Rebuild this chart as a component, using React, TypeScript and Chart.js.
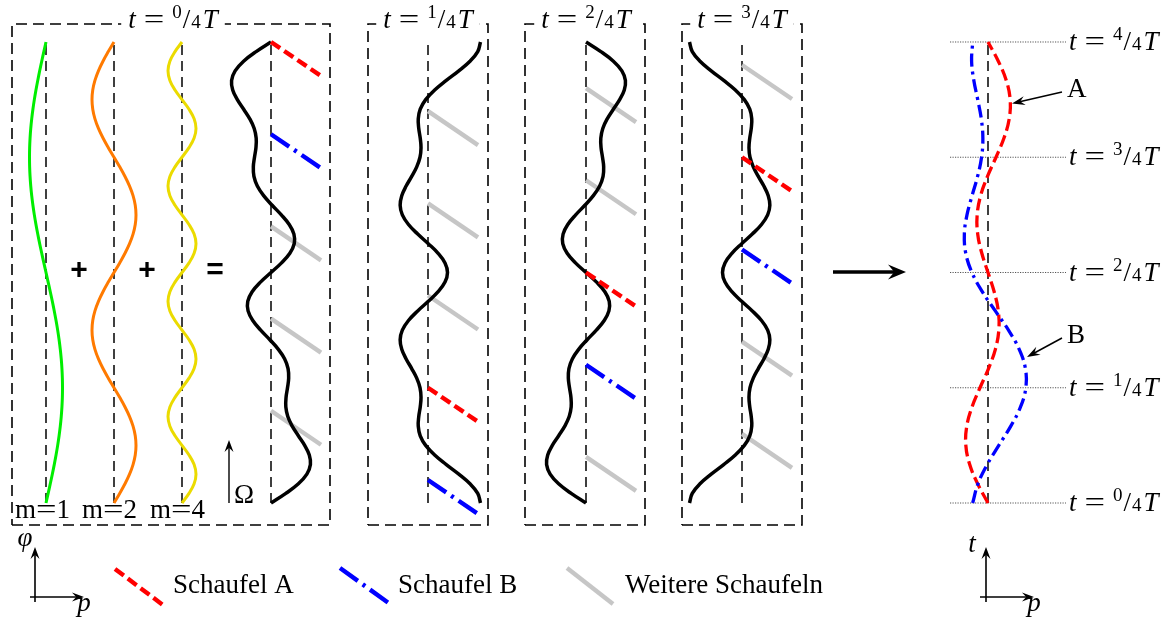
import React, { useEffect, useRef } from "react";
import { Chart, registerables } from "chart.js";

Chart.register(...registerables);

// ---------- data (x: pressure offset in px-units, y: angle / time in degrees) ----------
const PHI_DEG = [0, 7.5, 15, 22.5, 30, 37.5, 45, 52.5, 60, 67.5, 75, 82.5, 90, 97.5, 105, 112.5, 120, 127.5, 135, 142.5, 150, 157.5, 165, 172.5, 180, 187.5, 195, 202.5, 210, 217.5, 225, 232.5, 240, 247.5, 255, 262.5, 270, 277.5, 285, 292.5, 300, 307.5, 315, 322.5, 330, 337.5, 345, 352.5, 360];

const MODE_1 = [0, 2.15, 4.27, 6.31, 8.25, 10.04, 11.67, 13.09, 14.29, 15.24, 15.94, 16.36, 16.5, 16.36, 15.94, 15.24, 14.29, 13.09, 11.67, 10.04, 8.25, 6.31, 4.27, 2.15, 0, -2.15, -4.27, -6.31, -8.25, -10.04, -11.67, -13.09, -14.29, -15.24, -15.94, -16.36, -16.5, -16.36, -15.94, -15.24, -14.29, -13.09, -11.67, -10.04, -8.25, -6.31, -4.27, -2.15, 0];
const MODE_2 = [0, 5.69, 11, 15.56, 19.05, 21.25, 22, 21.25, 19.05, 15.56, 11, 5.69, 0, -5.69, -11, -15.56, -19.05, -21.25, -22, -21.25, -19.05, -15.56, -11, -5.69, 0, 5.69, 11, 15.56, 19.05, 21.25, 22, 21.25, 19.05, 15.56, 11, 5.69, 0, -5.69, -11, -15.56, -19.05, -21.25, -22, -21.25, -19.05, -15.56, -11, -5.69, 0];
const MODE_4 = [0, 7, 12.12, 14, 12.12, 7, 0, -7, -12.12, -14, -12.12, -7, 0, 7, 12.12, 14, 12.12, 7, 0, -7, -12.12, -14, -12.12, -7, 0, 7, 12.12, 14, 12.12, 7, 0, -7, -12.12, -14, -12.12, -7, 0, 7, 12.12, 14, 12.12, 7, 0, -7, -12.12, -14, -12.12, -7, 0];

const SUM_T0 = [0, 14.84, 27.39, 35.87, 39.42, 38.29, 33.67, 27.34, 21.22, 16.8, 14.82, 15.05, 16.5, 17.67, 17.06, 13.68, 7.36, -1.16, -10.33, -18.21, -22.92, -23.25, -18.85, -10.54, 0, 10.54, 18.85, 23.25, 22.92, 18.21, 10.33, 1.16, -7.36, -13.68, -17.06, -17.67, -16.5, -15.05, -14.82, -16.8, -21.22, -27.34, -33.67, -38.29, -39.42, -35.87, -27.39, -14.84, 0];
const SUM_T1 = [52.5, 49.73, 41.99, 30.8, 18.29, 6.66, -2.33, -7.77, -9.75, -9.25, -7.78, -6.98, -8, -11.28, -16.32, -21.87, -26.25, -27.85, -25.67, -19.52, -10.29, 0.32, 10.11, 17.01, 19.5, 17.01, 10.11, 0.32, -10.29, -19.52, -25.67, -27.85, -26.25, -21.87, -16.32, -11.28, -8, -6.98, -7.78, -9.25, -9.75, -7.77, -2.33, 6.66, 18.29, 30.8, 41.99, 49.73, 52.5];
const SUM_T2 = [0, -14.84, -27.39, -35.87, -39.42, -38.29, -33.67, -27.34, -21.22, -16.8, -14.82, -15.05, -16.5, -17.67, -17.06, -13.68, -7.36, 1.16, 10.33, 18.21, 22.92, 23.25, 18.85, 10.54, 0, -10.54, -18.85, -23.25, -22.92, -18.21, -10.33, -1.16, 7.36, 13.68, 17.06, 17.67, 16.5, 15.05, 14.82, 16.8, 21.22, 27.34, 33.67, 38.29, 39.42, 35.87, 27.39, 14.84, 0];
const SUM_T3 = [-52.5, -49.73, -41.99, -30.8, -18.29, -6.66, 2.33, 7.77, 9.75, 9.25, 7.78, 6.98, 8, 11.28, 16.32, 21.87, 26.25, 27.85, 25.67, 19.52, 10.29, -0.32, -10.11, -17.01, -19.5, -17.01, -10.11, -0.32, 10.29, 19.52, 25.67, 27.85, 26.25, 21.87, 16.32, 11.28, 8, 6.98, 7.78, 9.25, 9.75, 7.77, 2.33, -6.66, -18.29, -30.8, -41.99, -49.73, -52.5];

const T_DEG = [0, 15, 30, 45, 60, 75, 90, 105, 120, 135, 150, 165, 180, 195, 210, 225, 240, 255, 270, 285, 300, 315, 330, 345, 360];
const BLADE_A_PRESSURE = [0, -10.32, -18.29, -22.16, -21.22, -15.98, -8, 0.52, 7.36, 10.84, 10.29, 6.18, 0, -6.18, -10.29, -10.84, -7.36, -0.52, 8, 15.98, 21.22, 22.16, 18.29, 10.32, 0];
const BLADE_B_PRESSURE = [-15.31, -10.04, -0.87, 10.81, 22.78, 32.51, 37.82, 37.41, 31.23, 20.47, 7.3, -5.68, -16.07, -22.24, -23.65, -21.01, -15.92, -10.43, -6.44, -5.13, -6.71, -10.27, -14.16, -16.4, -15.31];

const BLADE_A_PHI = [360, 90, 180, 270];
const BLADE_B_PHI = [288, 18, 108, 198];
const OTHER_BLADES_PHI = [[216, 144, 72], [162, 234, 306], [252, 324, 36], [342, 54, 126]];

const PANEL_NUMERATORS = ["0", "1", "2", "3"];
const RIGHT_NUMERATORS = ["0", "1", "2", "3", "4"];
const RIGHT_LEVELS = [0, 90, 180, 270, 360];
const MODE_LABELS = ["1", "2", "4"];
const LEGEND_LABELS = ["Schaufel A", "Schaufel B", "Weitere Schaufeln"];
const OPERATORS = ["+", "+", "="];

// ---------- layout (same units as the scales) ----------
const MODE_AXES = [46, 114, 182];
const PANEL_AXES = [271, 428, 586, 742];
const RIGHT_AXIS = 988;
const PANEL_BOXES = [[12, 330], [368, 488], [525, 645], [682, 802]];
const BOX_BOTTOM = -17.18;
const BOX_TOP = 374.05;
const TITLE_X = [173, 428, 586, 742];
const TITLE_BASE = 371;
const BLADE_DX = 50;
const BLADE_DPHI = 26.55;
const LEGEND_X = [[115, 163], [340, 390], [567, 613]];
const LEGEND_Y = [[-51.54, -79.65], [-50.76, -78.87], [-50.76, -78.87]];
const LEGEND_TEXT_X = [173, 398, 625];
const LEGEND_TEXT_BASE = -70.28;
const MODE_LABEL_X = [15, 82, 150];
const OPERATOR_X = [79, 147, 215];

const RED = "#ff0000";
const BLUE = "#0000ff";
const GRAY = "#c6c6c6";
const DASH_A = [11, 5];
const DASH_B = [22, 6, 3, 6];
const SERIF = '"Liberation Serif", "Times New Roman", serif';
const F_TEXT = `27px ${SERIF}`;
const F_IT = `italic 27px ${SERIF}`;
const F_SMALL = `19px ${SERIF}`;

type Pt = { x: number; y: number };
type Seg = { t?: string; font?: string; dy?: number; gap?: number; sx?: number };

function lineDs(data: Pt[], color: string, width: number, dash: number[] = [], tension = 0, cap: CanvasLineCap = "butt") {
  return {
    data,
    showLine: true,
    pointRadius: 0,
    pointHoverRadius: 0,
    borderColor: color,
    backgroundColor: color,
    borderWidth: width,
    borderDash: dash,
    borderCapStyle: cap,
    borderJoinStyle: "miter" as CanvasLineJoin,
    tension,
    fill: false,
    clip: false as any,
  };
}

function curve(axis: number, values: number[], ys: number[]): Pt[] {
  return values.map((v, i) => ({ x: axis + v, y: ys[i] }));
}

function seg(x1: number, y1: number, x2: number, y2: number): Pt[] {
  return [{ x: x1, y: y1 }, { x: x2, y: y2 }];
}

function buildDatasets() {
  const list: any[] = []; // bottom-to-top
  PANEL_BOXES.forEach(([a, b]) => {
    list.push(lineDs([{ x: a, y: BOX_BOTTOM }, { x: b, y: BOX_BOTTOM }, { x: b, y: BOX_TOP }, { x: a, y: BOX_TOP }, { x: a, y: BOX_BOTTOM }], "#000", 1.6, [11, 6]));
  });
  [...MODE_AXES, ...PANEL_AXES, RIGHT_AXIS].forEach((ax) => list.push(lineDs(seg(ax, 0, ax, 360), "#000", 1.5, [10, 6])));
  RIGHT_LEVELS.forEach((lv) => list.push(lineDs(seg(950, lv, 1066, lv), "#555", 1, [1.2, 1.3])));
  OTHER_BLADES_PHI.forEach((phis, p) => {
    phis.forEach((ph) => list.push(lineDs(seg(PANEL_AXES[p], ph, PANEL_AXES[p] + BLADE_DX, ph - BLADE_DPHI), GRAY, 4.4)));
  });
  list.push(lineDs(curve(MODE_AXES[0], MODE_1, PHI_DEG), "#00ee00", 3, [], 0.4));
  list.push(lineDs(curve(MODE_AXES[1], MODE_2, PHI_DEG), "#ff7a00", 3, [], 0.4));
  list.push(lineDs(curve(MODE_AXES[2], MODE_4, PHI_DEG), "#ebdb00", 3, [], 0.4));
  [SUM_T0, SUM_T1, SUM_T2, SUM_T3].forEach((s, p) => list.push(lineDs(curve(PANEL_AXES[p], s, PHI_DEG), "#000", 3.5, [], 0.4)));
  BLADE_A_PHI.forEach((ph, p) => list.push(lineDs(seg(PANEL_AXES[p], ph, PANEL_AXES[p] + BLADE_DX, ph - BLADE_DPHI), RED, 4.4, DASH_A)));
  BLADE_B_PHI.forEach((ph, p) => list.push(lineDs(seg(PANEL_AXES[p], ph, PANEL_AXES[p] + BLADE_DX, ph - BLADE_DPHI), BLUE, 4.4, DASH_B)));
  list.push(lineDs(curve(RIGHT_AXIS, BLADE_A_PRESSURE, T_DEG), RED, 3.3, [12, 5], 0.4));
  list.push(lineDs(curve(RIGHT_AXIS, BLADE_B_PRESSURE, T_DEG), BLUE, 3.3, [13, 5, 3, 5], 0.4));
  const legendStyles: [string, number[]][] = [[RED, DASH_A], [BLUE, DASH_B], [GRAY, []]];
  LEGEND_X.forEach(([x1, x2], i) => list.push(lineDs(seg(x1, LEGEND_Y[i][0], x2, LEGEND_Y[i][1]), legendStyles[i][0], 4.4, legendStyles[i][1])));
  const n = list.length;
  return list.map((d, i) => ({ ...d, order: n - i }));
}

function segWidth(ctx: CanvasRenderingContext2D, segs: Seg[]) {
  let w = 0;
  segs.forEach((s) => {
    if (s.gap) w += s.gap;
    else {
      ctx.font = s.font || F_TEXT;
      w += ctx.measureText(s.t || "").width * (s.sx || 1);
    }
  });
  return w;
}

function drawSegs(ctx: CanvasRenderingContext2D, segs: Seg[], x: number, y: number) {
  let cx = x;
  segs.forEach((s) => {
    if (s.gap) {
      cx += s.gap;
      return;
    }
    ctx.font = s.font || F_TEXT;
    const w = ctx.measureText(s.t || "").width;
    ctx.save();
    ctx.translate(cx, y + (s.dy || 0));
    ctx.scale(s.sx || 1, 1);
    ctx.fillText(s.t || "", 0, 0);
    ctx.restore();
    cx += w * (s.sx || 1);
  });
}

const EQ: Seg = { t: "=", font: F_TEXT, sx: 1.35 };
function timeSegs(n: string): Seg[] {
  return [
    { t: "t", font: F_IT }, { gap: 8 }, EQ, { gap: 8 },
    { t: n, font: F_SMALL, dy: -10 }, { gap: 1 }, { t: "/", font: F_TEXT }, { gap: 1 },
    { t: "4", font: F_SMALL }, { gap: 2 }, { t: "T", font: F_IT },
  ];
}

function arrow(ctx: CanvasRenderingContext2D, x1: number, y1: number, x2: number, y2: number, lw: number, L: number, W: number) {
  const a = Math.atan2(y2 - y1, x2 - x1);
  const ux = Math.cos(a), uy = Math.sin(a);
  ctx.save();
  ctx.setLineDash([]);
  ctx.strokeStyle = "#000";
  ctx.fillStyle = "#000";
  ctx.lineWidth = lw;
  ctx.beginPath();
  ctx.moveTo(x1, y1);
  ctx.lineTo(x2 - ux * L * 0.6, y2 - uy * L * 0.6);
  ctx.stroke();
  ctx.beginPath();
  ctx.moveTo(x2, y2);
  ctx.lineTo(x2 - ux * L - uy * W, y2 - uy * L + ux * W);
  ctx.lineTo(x2 - ux * L * 0.65, y2 - uy * L * 0.65);
  ctx.lineTo(x2 - ux * L + uy * W, y2 - uy * L - ux * W);
  ctx.closePath();
  ctx.fill();
  ctx.restore();
}

const ARROWS = [
  { from: [229, 0], to: [229, 49.2], w: 1.4, L: 12, W: 4.5 },
  { from: [833, 180.4], to: [906, 180.4], w: 3.4, L: 18, W: 7.5 },
  { from: [1062, 320.95], to: [1012, 311.97], w: 1.5, L: 13, W: 4.5 },
  { from: [1062, 128.85], to: [1027, 114.01], w: 1.5, L: 13, W: 4.5 },
  { from: [35, -77.31], to: [35, -34.36], w: 1.6, L: 12, W: 4.5 },
  { from: [30, -73.41], to: [84, -73.41], w: 1.6, L: 12, W: 4.5 },
  { from: [986, -77.31], to: [986, -34.36], w: 1.6, L: 12, W: 4.5 },
  { from: [980, -73.41], to: [1034, -73.41], w: 1.6, L: 12, W: 4.5 },
];

const overlay = {
  id: "overlay",
  beforeDraw(chart: any) {
    const ctx = chart.ctx;
    ctx.save();
    ctx.fillStyle = "#fff";
    ctx.fillRect(0, 0, chart.width, chart.height);
    ctx.restore();
  },
  afterDatasetsDraw(chart: any) {
    const ctx: CanvasRenderingContext2D = chart.ctx;
    const X = (v: number) => chart.scales.x.getPixelForValue(v);
    const Y = (v: number) => chart.scales.y.getPixelForValue(v);
    ctx.save();
    ctx.textBaseline = "alphabetic";
    ctx.textAlign = "left";
    // panel titles with white backing over the dashed frame
    PANEL_NUMERATORS.forEach((n, i) => {
      const segs = timeSegs(n);
      const w = segWidth(ctx, segs);
      const cx = X(TITLE_X[i]);
      ctx.fillStyle = "#fff";
      ctx.fillRect(cx - w / 2 - 7, Y(BOX_TOP) - 5, w + 14, 10);
      ctx.fillStyle = "#000";
      drawSegs(ctx, segs, cx - w / 2, Y(TITLE_BASE));
    });
    ctx.fillStyle = "#000";
    // right-hand time labels
    RIGHT_NUMERATORS.forEach((n, i) => drawSegs(ctx, timeSegs(n), X(1069), Y(RIGHT_LEVELS[i] - 6.25)));
    // mode labels
    MODE_LABELS.forEach((m, i) => drawSegs(ctx, [{ t: "m", font: F_TEXT }, EQ, { t: m, font: F_TEXT }], X(MODE_LABEL_X[i]), Y(-11.71)));
    // legend texts
    LEGEND_LABELS.forEach((l, i) => drawSegs(ctx, [{ t: l, font: F_TEXT }], X(LEGEND_TEXT_X[i]), Y(LEGEND_TEXT_BASE)));
    // single letters
    drawSegs(ctx, [{ t: "Ω", font: F_TEXT }], X(234), Y(0));
    drawSegs(ctx, [{ t: "A", font: F_TEXT }], X(1067), Y(317.05));
    drawSegs(ctx, [{ t: "B", font: F_TEXT }], X(1067), Y(124.94));
    ctx.textAlign = "center";
    ctx.font = F_IT;
    ctx.fillText("φ", X(25), Y(-33.58));
    ctx.fillText("p", X(84), Y(-84.34));
    ctx.fillText("p", X(1034), Y(-84.34));
    ctx.fillText("t", X(972), Y(-38.26));
    // operators between the mode curves
    ctx.font = 'bold 30px "Liberation Sans", Arial, sans-serif';
    ctx.textBaseline = "middle";
    OPERATORS.forEach((o, i) => ctx.fillText(o, X(OPERATOR_X[i]), Y(181)));
    ctx.restore();
    ARROWS.forEach((a) => arrow(ctx, X(a.from[0]), Y(a.from[1]), X(a.to[0]), Y(a.to[1]), a.w, a.L, a.W));
  },
};

export default function App() {
  const ref = useRef<HTMLCanvasElement>(null);
  useEffect(() => {
    if (!ref.current) return;
    const chart = new Chart(ref.current, {
      type: "scatter",
      data: { datasets: buildDatasets() },
      options: {
        responsive: false,
        animation: false,
        devicePixelRatio: 1,
        events: [],
        layout: { padding: 0 },
        plugins: { legend: { display: false }, tooltip: { enabled: false }, title: { display: false } },
        scales: {
          x: { type: "linear", min: 0, max: 1170, display: false },
          y: { type: "linear", min: -92.147, max: 392.798, display: false },
        },
      },
      plugins: [overlay],
    } as any);
    return () => chart.destroy();
  }, []);
  return (
    <div style={{ position: "fixed", left: 0, top: 0, width: 1170, height: 621, background: "#fff" }}>
      <canvas ref={ref} width={1170} height={621} style={{ display: "block", width: 1170, height: 621 }} />
    </div>
  );
}
